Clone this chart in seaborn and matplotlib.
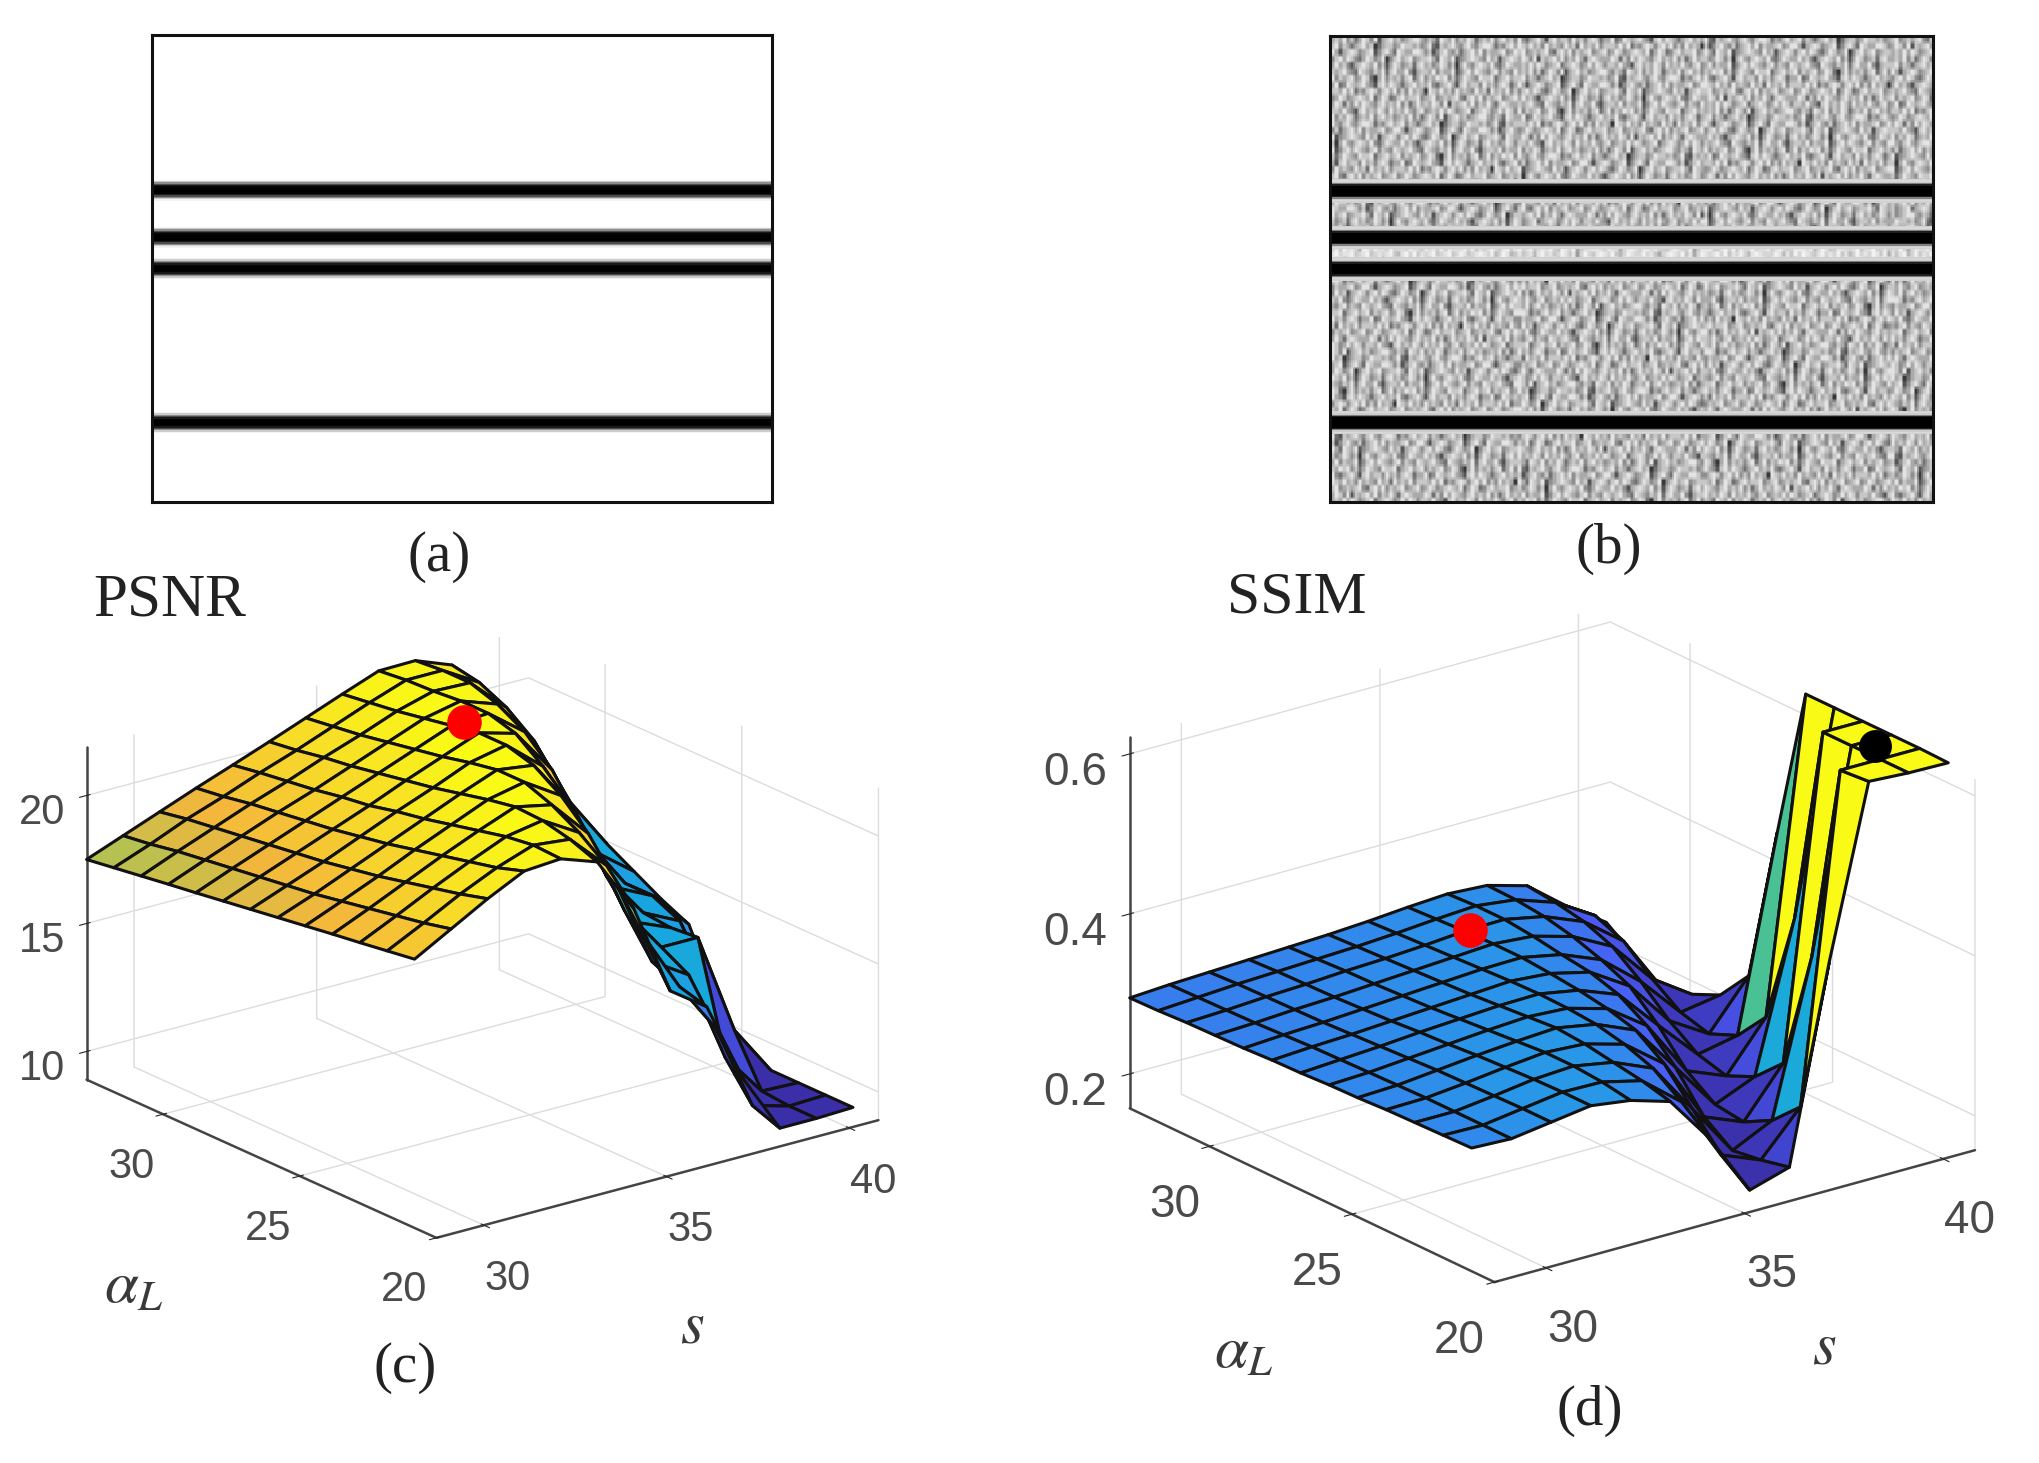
import numpy as np
import matplotlib
matplotlib.use("Agg")
import matplotlib.pyplot as plt
import seaborn as sns

sns.set_style("white")
plt.rcParams["font.family"] = ["Liberation Sans", "DejaVu Sans"]
plt.rcParams["mathtext.fontset"] = "stix"

FIG_W, FIG_H = 2039, 1463
TICK_GRAY = "#4a4a4a"

# image rows of the dark bands, out of 358
BAND_ROWS = [119, 155, 179, 297]
IMAGE_ROWS = 358
PROFILE_A = [0.95, 0.8, 0.55, 0.3, 0.1, 0.02, 0.0, 0.0, 0.0, 0.0, 0.02, 0.1, 0.3, 0.55, 0.8, 0.95]
PROFILE_B = [0.82, 0.85, 0.8, 0.5, 0.12, 0.0, 0.0, 0.0, 0.0, 0.0, 0.0, 0.0, 0.0, 0.12, 0.5, 0.8, 0.85, 0.82]

# grey levels 0-9 of the speckle in (b)
SPECKLE = [
    "676857468758367867567886576487685768746768578675",
    "785764678672467756877675684376786578657887465786",
    "863678756783578648766887573578657467868576678568",
    "578687546875682578678567786487683567876586736787",
    "686753678768573687567478675687572686578768546876",
    "767865487657684786685367768576683578687657857658",
    "857678568742685767578468576878574687658778467867",
    "684587678653786876467867685467863786775867578746",
    "776868465787578685758676287686758676586748676857",
    "568756787684687457867785678567678547868576785678",
    "687475868765786768574686768758376786857686478766",
    "776865378676875867686578567686875678467875686875",
]
SPECKLE_SHIFTS = [0, 17, 31, 9, 40, 23]

S_VALUES = [28.7, 29.7, 30.7, 31.7, 32.7, 33.7, 34.7, 35.7, 36.7, 37.7, 38.7, 39.7, 40.7]
ALPHA_VALUES = [20.8, 21.8, 22.8, 23.8, 24.8, 25.8, 26.8, 27.8, 28.8, 29.8, 30.8, 31.8, 32.8]

PSNR = [
    [19.40, 20.20, 21.00, 21.70, 21.80, 21.30, 19.10, 15.50, 14.50, 11.30, 9.00, 9.00, 9.05],
    [19.24, 19.95, 20.70, 21.35, 21.85, 21.70, 20.30, 17.20, 14.80, 12.80, 9.40, 9.00, 9.05],
    [19.08, 19.75, 20.45, 21.10, 21.70, 21.95, 21.10, 18.80, 15.30, 14.40, 10.80, 9.10, 9.05],
    [18.93, 19.55, 20.20, 20.85, 21.45, 22.00, 21.70, 20.20, 16.80, 15.00, 15.00, 11.00, 9.05],
    [18.77, 19.35, 19.95, 20.60, 21.20, 21.80, 22.10, 21.20, 18.50, 15.50, 14.90, 12.50, 9.10],
    [18.61, 19.15, 19.75, 20.35, 20.95, 21.55, 22.10, 21.90, 20.00, 16.80, 15.00, 14.30, 11.00],
    [18.45, 19.00, 19.55, 20.15, 20.75, 21.30, 21.90, 22.20, 21.00, 18.50, 15.50, 14.80, 13.30],
    [18.29, 18.85, 19.40, 19.95, 20.50, 21.10, 21.65, 22.20, 21.80, 20.00, 16.80, 14.80, 13.80],
    [18.13, 18.70, 19.25, 19.80, 20.35, 20.90, 21.45, 22.00, 22.10, 21.00, 18.40, 15.50, 14.40],
    [17.98, 18.55, 19.10, 19.65, 20.15, 20.70, 21.25, 21.80, 22.10, 21.60, 19.80, 17.00, 15.00],
    [17.82, 18.40, 18.95, 19.50, 20.00, 20.55, 21.05, 21.60, 22.00, 21.95, 20.60, 18.00, 15.60],
    [17.66, 18.20, 18.80, 19.30, 19.85, 20.35, 20.90, 21.45, 21.95, 21.95, 21.10, 19.00, 16.50],
    [17.50, 18.05, 18.60, 19.15, 19.67, 20.20, 20.75, 21.30, 21.83, 21.85, 21.30, 19.60, 17.40],
]

SSIM = [
    [.311, .309, .316, .323, .316, .301, .241, .163, .178, .420, .633, .630, .629],
    [.310, .309, .316, .323, .322, .310, .270, .190, .170, .223, .630, .630, .630],
    [.309, .309, .315, .322, .325, .316, .295, .230, .165, .189, .380, .630, .630],
    [.308, .309, .314, .320, .325, .322, .308, .270, .190, .170, .230, .630, .630],
    [.306, .308, .313, .318, .322, .325, .316, .295, .235, .175, .196, .380, .630],
    [.305, .307, .311, .315, .319, .322, .319, .305, .270, .200, .180, .240, .630],
    [.303, .306, .309, .313, .316, .319, .320, .311, .292, .240, .190, .200, .440],
    [.302, .305, .307, .310, .313, .316, .319, .315, .303, .272, .215, .185, .244],
    [.300, .303, .305, .308, .311, .314, .317, .318, .308, .288, .247, .195, .203],
    [.299, .301, .304, .306, .309, .312, .315, .318, .314, .300, .274, .220, .187],
    [.298, .300, .303, .305, .308, .310, .313, .317, .318, .308, .288, .250, .176],
    [.296, .299, .302, .304, .306, .308, .311, .315, .318, .312, .295, .265, .200],
    [.295, .298, .300, .302, .304, .306, .309, .313, .316, .313, .299, .260, .226],
]

PARULA = sns.blend_palette(
    ["#3a2fa8", "#4040c8", "#4a5cf5", "#2a96e8", "#18a5e0", "#22c0b0",
     "#a8c455", "#f4b63c", "#f7dc28", "#f9fb15"], n_colors=256, as_cmap=True)


def px_axes(fig, left, top, width, height, **kwargs):
    return fig.add_axes([left / FIG_W, 1 - (top + height) / FIG_H,
                         width / FIG_W, height / FIG_H], **kwargs)


def px_text(fig, x, y, text, **kwargs):
    kwargs.setdefault("ha", "center")
    kwargs.setdefault("va", "center")
    fig.text(x / FIG_W, 1 - y / FIG_H, text, **kwargs)


def put_bands(image, profile):
    half = len(profile) // 2
    for row in BAND_ROWS:
        image[row - half:row - half + len(profile)] = np.array(profile)[:, None]
    return image


def soften(image, size, axis):
    kernel = np.ones(size) / size
    return np.apply_along_axis(lambda v: np.convolve(v, kernel, mode="same"), axis, image)


def speckle_image():
    patch = np.array([[int(c) for c in line] for line in SPECKLE]) / 9.0
    tall = np.vstack([np.roll(patch, shift, axis=1) for shift in SPECKLE_SHIFTS])
    wide = np.hstack([tall, np.roll(tall, 5, axis=0), np.roll(tall, 11, axis=0), np.roll(tall, 3, axis=0)])
    image = np.repeat(np.repeat(wide[:, :155], 5, axis=0), 3, axis=1)
    image = np.vstack([image, image])[:IMAGE_ROWS]
    image = np.pad(image, 4, mode="edge")
    image = soften(soften(image, 3, 0), 2, 1)[4:-4, 4:-4]
    # strip between the two close bands is paler
    image[BAND_ROWS[1]:BAND_ROWS[2]] = (image[BAND_ROWS[1]:BAND_ROWS[2]] + 1) / 2
    return put_bands(image, PROFILE_B)


def draw_image(ax, image):
    sns.heatmap(image, cmap="gray", vmin=0, vmax=1, cbar=False,
                xticklabels=False, yticklabels=False, ax=ax)
    for spine in ax.spines.values():
        spine.set_visible(True)
        spine.set_color("#111111")
        spine.set_linewidth(2.2)


def draw_surface(ax, z_values, zlim, zticks, zfmt, aspect, elev, azim, tick_size, pads):
    z = np.array(z_values)
    x, y = np.meshgrid(S_VALUES, ALPHA_VALUES)
    norm = plt.Normalize(z.min(), z.max())
    # MATLAB colours each face from its far corner
    corner = np.vstack([z[1:], z[-1:]])
    corner = np.hstack([corner[:, 1:], corner[:, -1:]])
    ax.computed_zorder = False
    surf = ax.plot_surface(x, y, z, rstride=1, cstride=1, facecolors=PARULA(norm(corner)),
                           shade=False, zorder=2)
    surf.set_edgecolor("#111111")
    surf.set_linewidth(2.2)

    ax.set_proj_type("ortho")
    ax.view_init(elev=elev, azim=azim)
    ax.set_box_aspect(aspect)
    ax.set_xlim(28.7, 40.8)
    ax.set_ylim(20, 32.8)
    ax.set_zlim(*zlim)
    ax.set_xticks([30, 35, 40])
    ax.set_yticks([20, 25, 30])
    ax.set_zticks(zticks)
    ax.set_zticklabels([zfmt.format(v) for v in zticks])
    ax.patch.set_alpha(0)
    for axis in (ax.xaxis, ax.yaxis, ax.zaxis):
        axis.set_pane_color((1, 1, 1, 0))
        axis.pane.set_edgecolor("#dddddd")
        axis.line.set_color("#444444")
        axis.line.set_linewidth(1.8)
        axis._axinfo["grid"]["color"] = "#dcdcdc"
        axis._axinfo["grid"]["linewidth"] = 1.0
        axis._axinfo["tick"]["color"] = "#444444"
    ax.tick_params(axis="x", labelsize=tick_size, labelcolor=TICK_GRAY, pad=pads[0])
    ax.tick_params(axis="y", labelsize=tick_size, labelcolor=TICK_GRAY, pad=pads[1])
    ax.tick_params(axis="z", labelsize=tick_size, labelcolor=TICK_GRAY, pad=pads[2])


fig = plt.figure(figsize=(FIG_W / 100, FIG_H / 100), dpi=100)

# (a) clean bands
ax_a = px_axes(fig, 152, 35, 620, 467)
image_a = put_bands(np.ones((IMAGE_ROWS, 4)), PROFILE_A)
draw_image(ax_a, image_a)

# (b) noisy bands
ax_b = px_axes(fig, 1330, 36, 603, 466)
draw_image(ax_b, speckle_image())

# (c) PSNR surface
ax_c = px_axes(fig, 46, 520, 850, 850, projection="3d")
draw_surface(ax_c, PSNR, (8.9, 21.9), [10, 15, 20], "{:d}", (0.95, 0.98, 0.605), 20.3, -127.5,
             30, (14, 15, 10))
ax_c.scatter([35.9], [28.6], [22.15], s=620, c="#ff0000", depthshade=False, zorder=5, linewidths=0)

# (d) SSIM surface
ax_d = px_axes(fig, 1083, 499, 914, 914, projection="3d")
draw_surface(ax_d, SSIM, (0.157, 0.621), [0.2, 0.4, 0.6], "{:.1f}", (1, 1, 0.66), 21.2, -127.2,
             33, (17, 17, 14))
ax_d.scatter([35.7], [30.6], [0.322], s=620, c="#ff0000", depthshade=False, zorder=5, linewidths=0)
ax_d.scatter([40.0], [22.4], [0.632], s=560, c="#000000", depthshade=False, zorder=5, linewidths=0)

serif = dict(family=["Liberation Serif", "DejaVu Serif"], color="#222222", fontsize=41)
px_text(fig, 439, 557, "(a)", **serif)
px_text(fig, 1609, 549, "(b)", **serif)
px_text(fig, 405, 1368, "(c)", **serif)
px_text(fig, 1590, 1411, "(d)", **serif)
px_text(fig, 93, 601, "PSNR", ha="left", family=serif["family"], color=serif["color"], fontsize=44)
px_text(fig, 1227, 599, "SSIM", ha="left", family=serif["family"], color=serif["color"], fontsize=43)

px_text(fig, 134, 1287, r"$\alpha_L$", fontsize=44, color="#3a3a3a")
px_text(fig, 692, 1327, r"$s$", fontsize=44, color="#3a3a3a")
px_text(fig, 1244, 1352, r"$\alpha_L$", fontsize=44, color="#3a3a3a")
px_text(fig, 1824, 1348, r"$s$", fontsize=44, color="#3a3a3a")

fig.savefig("out.png", dpi=100, facecolor="white")
